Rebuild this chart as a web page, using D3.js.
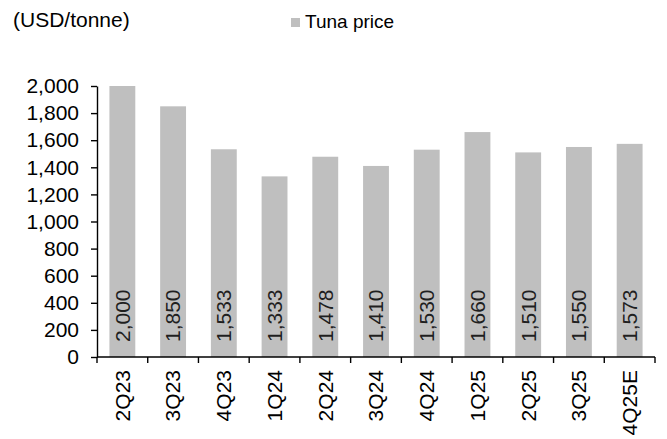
<!DOCTYPE html>
<html><head><meta charset="utf-8">
<script src="https://cdn.jsdelivr.net/npm/d3@7"></script>
<style>body{margin:0;background:#fff}svg{display:block}text{font-family:"Liberation Sans",Arial,sans-serif}</style>
</head><body><svg id="c" width="667" height="439"></svg>
<script>
const categories = ["2Q23","3Q23","4Q23","1Q24","2Q24","3Q24","4Q24","1Q25","2Q25","3Q25","4Q25E"];
const tunaPrice = [2000,1850,1533,1333,1478,1410,1530,1660,1510,1550,1573];
const yTicks = [0,200,400,600,800,1000,1200,1400,1600,1800,2000];
const seriesName = "Tuna price";
const unitLabel = "(USD/tonne)";

const svg = d3.select("#c");
const x = d3.scaleBand().domain(categories).range([97,655]).paddingInner(0.49).paddingOuter(0.245);
const y = d3.scaleLinear().domain([0,2000]).range([357,86]);
const fmt = d3.format(",");
const fs = 21;

// bars
svg.append("g").selectAll("rect").data(categories).join("rect")
  .attr("x", d => x(d)).attr("width", x.bandwidth())
  .attr("y", (d,i) => y(tunaPrice[i])).attr("height", (d,i) => y(0) - y(tunaPrice[i]))
  .attr("fill", "#bfbfbf");

// bar value labels (inside base, rotated)
svg.append("g").selectAll("text").data(categories).join("text")
  .attr("transform", d => `translate(${x(d) + x.bandwidth()/2},${y(0) - 15}) rotate(-90)`)
  .attr("dy", "0.35em").attr("text-anchor", "start")
  .attr("font-size", fs).attr("fill", "#1f1f1f")
  .text((d,i) => fmt(tunaPrice[i]));

// y axis
const yAxis = svg.append("g").attr("transform", "translate(97,0)")
  .call(d3.axisLeft(y).tickValues(yTicks).tickFormat(fmt).tickSize(6).tickPadding(12).tickSizeOuter(0));
yAxis.select(".domain").attr("stroke", "#000").attr("stroke-width", 1.4);
yAxis.selectAll(".tick line").attr("stroke", "#000").attr("stroke-width", 1.4);
yAxis.selectAll(".tick text").attr("font-size", fs).attr("fill", "#000").attr("font-family", "Liberation Sans, Arial, sans-serif");

// x axis
const step = x.step();
const gap = step - x.bandwidth();
const bounds = categories.map(d => x(d) - gap/2).concat([x(categories[categories.length-1]) + x.bandwidth() + gap/2]);
const xg = svg.append("g");
xg.append("line").attr("x1", x.range()[0]).attr("x2", x.range()[1]).attr("y1", y(0)).attr("y2", y(0))
  .attr("stroke", "#000").attr("stroke-width", 1.4);
xg.selectAll("line.t").data(bounds).join("line").attr("class","t")
  .attr("x1", d => d).attr("x2", d => d).attr("y1", y(0)).attr("y2", y(0) + 6)
  .attr("stroke", "#000").attr("stroke-width", 1.4);
xg.selectAll("text").data(categories).join("text")
  .attr("transform", d => `translate(${x(d) + x.bandwidth()/2},${y(0) + 13}) rotate(-90)`)
  .attr("dy", "0.35em").attr("text-anchor", "end")
  .attr("font-size", fs).attr("fill", "#000").text(d => d);

// unit label
svg.append("text").attr("x", 13).attr("y", 27).attr("font-size", fs).attr("fill", "#000").text(unitLabel);

// legend
svg.append("rect").attr("x", 291).attr("y", 18).attr("width", 9).attr("height", 9).attr("fill", "#bfbfbf");
svg.append("text").attr("x", 305).attr("y", 28).attr("font-size", 19).attr("fill", "#000").text(seriesName);
</script></body></html>
